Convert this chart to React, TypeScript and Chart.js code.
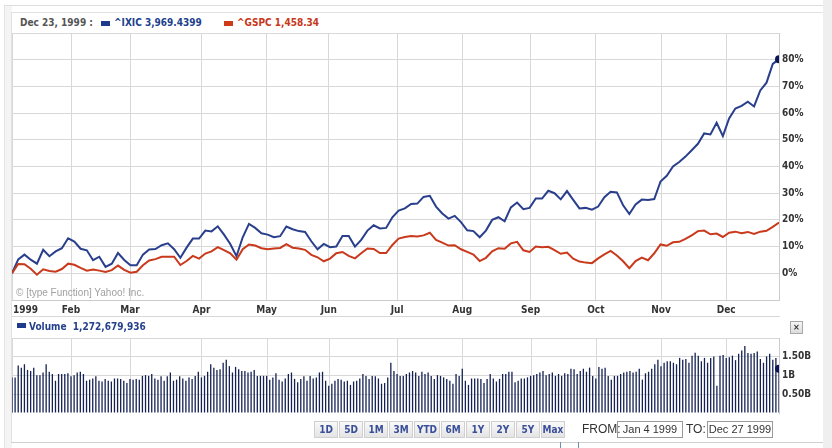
import React, { useEffect, useRef } from 'react';
import { Chart, registerables } from 'chart.js';
Chart.register(...registerables);

// ---------- data ----------
const LAST_DAY = 247; // trading-day index of the last session shown
const MONTH_DAY_INDEX = [0, 19, 38, 61, 82, 102, 124, 145, 167, 188, 209, 230];
const MONTH_LABELS = ['1999', 'Feb', 'Mar', 'Apr', 'May', 'Jun', 'Jul', 'Aug', 'Sep', 'Oct', 'Nov', 'Dec'];

// % change since Jan 4 1999, sampled every ~2 trading days
const IXIC_PCT = [
  0, 5.2, 7, 5.1, 3.6, 8.8, 6.4, 8.2, 9.4, 13.1,
  11.9, 9.2, 8.6, 4.9, 6.2, 2.4, 3.6, 7.6, 5, 3,
  3, 7, 8.9, 9.1, 10.5, 11.2, 9, 5.8, 9.6, 13,
  13, 16, 15.7, 17.6, 14.5, 11, 6.4, 13.5, 18.5, 17,
  15, 14.5, 13.5, 13.9, 17.5, 16.5, 15.8, 15.5, 12, 9,
  11, 9.8, 10, 14, 14, 10, 12.5, 16, 18, 16.8,
  17, 21, 23.5, 24.3, 26, 26.1, 28.6, 29, 25, 22.4,
  20.5, 21.5, 19.2, 16.1, 15.8, 13.5, 16, 20, 21, 19.5,
  24.7, 26.5, 24, 24.5, 28, 28, 30.9, 30, 27.7, 30.8,
  27.5, 24.3, 24.5, 23.8, 25, 28.5, 30.5, 30.3, 25.5, 22.2,
  25.8, 27.6, 27.5, 27.8, 34.4, 36.5, 40, 41.7, 43.7, 46.1,
  48.5, 52.4, 52, 56.4, 51.4, 58, 61.7, 62.7, 64.3, 62.5,
  68.5, 71.4, 78.4, 80.2,
];
const GSPC_PCT = [
  0, 3.5, 3.4, 1.7, -0.5, 1.5, 0.9, 0.6, 1.6, 3.6,
  3.2, 2, 1, 1.4, 1, 0.5, 1.2, 2.9, 1.3, 0.2,
  0.6, 3, 4.8, 5.3, 6.2, 6.2, 6.2, 3.1, 4.6, 6.5,
  5.5, 7.4, 8.2, 9.8, 8.7, 7.5, 5.1, 9, 10.8, 10.4,
  9.4, 9, 9.3, 9.5, 10.9, 9.6, 9.3, 8.8, 6.9, 6,
  4.5, 5.5, 7.5, 8, 6.5, 5.6, 7.5, 9.3, 9.1, 7.6,
  7.6, 10.6, 13, 13.6, 14, 13.8, 14.2, 15.2, 12.5, 11.5,
  10.4, 10.5, 9, 8, 7, 4.6, 5.8, 8.2, 9.4, 9.2,
  11.2, 11.8, 8.6, 8, 10, 9.8, 9.9, 8.7, 7.3, 7.8,
  5.5, 4.4, 4, 3.8, 5.6, 7.1, 8.4, 6.7, 4.5, 1.9,
  4.6, 5.9, 4.9, 7.5, 10.8, 10.3, 11.6, 11.8, 12.9, 14.2,
  15.8, 16, 14.6, 14.9, 13.6, 15.2, 15.6, 15, 15.5, 14.7,
  15.6, 15.9, 17.4, 19,
];

// daily volume, billions of shares
const VOLUME_B = [
  0.95, 0.95, 1.27, 1.21, 1.30, 1.15, 1.12, 1.21, 1.01, 1.01,
  1.08, 1.30, 1.10, 1.04, 0.86, 1.04, 1.04, 1.04, 1.06, 0.98,
  1.01, 1.08, 1.10, 1.04, 0.86, 0.89, 0.92, 0.98, 0.86, 0.84,
  0.91, 0.86, 0.84, 0.92, 0.92, 0.91, 0.86, 0.80, 0.91, 0.89,
  0.91, 0.89, 0.99, 1.01, 0.99, 1.04, 0.92, 0.89, 0.98, 0.86,
  0.98, 1.08, 0.86, 0.89, 0.98, 0.92, 0.86, 0.95, 0.91, 0.99,
  1.10, 0.95, 0.99, 1.10, 1.30, 1.21, 1.15, 1.17, 1.34, 1.42,
  1.25, 1.08, 1.23, 1.17, 1.12, 1.12, 1.08, 1.10, 1.15, 0.99,
  0.99, 0.99, 0.99, 0.89, 0.95, 1.06, 0.89, 0.84, 0.92, 1.04,
  1.08, 0.91, 0.82, 0.91, 0.98, 0.86, 0.99, 0.92, 0.95, 1.08,
  1.10, 0.86, 0.73, 0.78, 0.86, 0.91, 0.89, 0.84, 0.86, 0.75,
  0.84, 0.86, 0.92, 1.04, 0.99, 0.91, 0.99, 0.98, 0.92, 0.78,
  0.80, 0.95, 1.34, 1.12, 1.04,
  0.99, 0.99, 1.04, 1.08, 1.12, 1.08, 0.99, 1.10, 1.04, 1.08,
  0.99, 0.91, 1.01, 0.99, 0.95, 0.91, 0.86, 0.78, 1.04, 0.99,
  1.18, 0.86, 0.75, 0.92, 0.92, 0.92, 0.91, 0.80, 0.91, 1.04,
  0.92, 0.84, 0.91, 1.04, 1.04, 1.10, 1.10, 0.82, 0.86, 0.92,
  0.92, 0.95, 0.99, 1.01, 1.04, 1.08, 1.12, 1.01, 1.04, 1.08,
  0.99, 1.04, 0.99, 1.06, 1.04, 1.18, 1.17, 1.04, 1.12, 1.18,
  1.10, 1.21, 0.99, 0.92, 1.23, 1.18, 1.21, 0.99, 0.89, 0.99,
  0.99, 1.04, 1.08, 1.10, 1.12, 1.08, 1.10, 1.18, 0.89, 1.06,
  1.10, 1.18, 1.30, 1.42, 1.25, 1.34, 1.38, 1.38, 1.34, 1.30,
  1.47, 1.42, 1.44, 1.34, 1.53, 1.61, 1.53, 1.38, 1.47, 1.34,
  1.47, 1.51, 0.73, 1.53, 1.55, 1.47, 1.49, 1.53, 1.41, 1.58,
  1.67, 1.79, 1.60, 1.58, 1.60, 1.64, 1.44, 1.34, 1.51, 1.58,
  1.42, 1.47, 1.18,
];

const PCT_TICKS = [0, 10, 20, 30, 40, 50, 60, 70, 80];
const PCT_TICK_LABELS = ['0%', '10%', '20%', '30%', '40%', '50%', '60%', '70%', '80%'];
const VOL_TICKS = [0.5, 1, 1.5];
const VOL_TICK_LABELS = ['0.50B', '1B', '1.50B'];
const RANGE_BUTTONS = ['1D', '5D', '1M', '3M', 'YTD', '6M', '1Y', '2Y', '5Y', 'Max'];

// ---------- styles ----------
const FONT = "'DejaVu Sans Condensed', 'DejaVu Sans', Verdana, sans-serif";
const BLUE = '#2a3f8c';
const RED = '#c9391b';
const DOT = '#0b1656';
const BAR = '#142152';
const GRID = '#d8d8d8';

const monthLabels = {
  id: 'monthLabels',
  afterDraw(chart: any) {
    const xs = chart.scales.x;
    const ctx = chart.ctx;
    ctx.save();
    ctx.font = `bold 10px ${FONT}`;
    ctx.fillStyle = '#333';
    ctx.textBaseline = 'middle';
    MONTH_DAY_INDEX.forEach((d, i) => {
      const px = xs.getPixelForValue(d);
      ctx.textAlign = i === 0 ? 'left' : 'center';
      ctx.fillText(MONTH_LABELS[i], i === 0 ? px + 1 : px, chart.chartArea.bottom + 10);
    });
    ctx.restore();
  },
};

// vertical month grid for the volume panel, placed with the x scale
const volMonthGrid = {
  id: 'volMonthGrid',
  beforeDatasetsDraw(chart: any) {
    const xs = chart.scales.x;
    const { top, bottom } = chart.chartArea;
    const ctx = chart.ctx;
    ctx.save();
    ctx.strokeStyle = GRID;
    ctx.lineWidth = 1;
    MONTH_DAY_INDEX.forEach((d) => {
      const px = Math.round(xs.getPixelForValue(d)) + 0.5;
      ctx.beginPath();
      ctx.moveTo(px, top);
      ctx.lineTo(px, bottom);
      ctx.stroke();
    });
    ctx.restore();
  },
};

export default function App() {
  const mainRef = useRef<HTMLCanvasElement>(null);
  const volRef = useRef<HTMLCanvasElement>(null);

  useEffect(() => {
    const step = LAST_DAY / (IXIC_PCT.length - 1);
    const toPts = (arr: number[]) => arr.map((v, k) => ({ x: k * step, y: v }));
    const monthTicks = (s: any) => {
      s.ticks = MONTH_DAY_INDEX.map((v) => ({ value: v }));
    };
    const tickFont = { family: FONT, size: 10, weight: 'bold' as const };

    const main = new Chart(mainRef.current!, {
      type: 'line',
      data: {
        datasets: [
          {
            label: '^GSPC',
            data: toPts(GSPC_PCT),
            borderColor: RED,
            borderWidth: 2,
            pointRadius: 0,
            tension: 0,
          },
          {
            label: '^IXIC',
            data: toPts(IXIC_PCT),
            borderColor: BLUE,
            borderWidth: 2,
            tension: 0,
            pointRadius: (c: any) => (c.dataIndex === IXIC_PCT.length - 1 ? 4 : 0),
            pointBackgroundColor: DOT,
            pointBorderWidth: 0,
            clip: 0,
          },
        ],
      },
      options: {
        responsive: false,
        animation: false,
        events: [],
        layout: { padding: { left: 12, top: 10, right: 0, bottom: 0 } },
        plugins: { legend: { display: false }, tooltip: { enabled: false } },
        scales: {
          x: {
            type: 'linear',
            min: 0,
            max: LAST_DAY,
            afterBuildTicks: monthTicks,
            ticks: { display: false },
            grid: { color: GRID, drawTicks: false },
            border: { color: '#cccccc' },
            afterFit: (s: any) => {
              s.height = 17;
            },
          },
          y: {
            position: 'right',
            min: -10,
            max: 90,
            ticks: {
              stepSize: 10,
              autoSkip: false,
              padding: 3,
              color: '#333',
              font: tickFont,
              callback: (v: any) => {
                const i = PCT_TICKS.indexOf(Number(v));
                return i >= 0 ? PCT_TICK_LABELS[i] : '';
              },
            },
            grid: { color: GRID, drawTicks: false },
            border: { color: '#cccccc' },
            afterFit: (s: any) => {
              s.width = 44;
            },
          },
        },
      },
      plugins: [monthLabels],
    });

    const last = VOLUME_B.length - 1;
    const vol = new Chart(volRef.current!, {
      type: 'bar',
      data: {
        datasets: [
          {
            type: 'line',
            label: 'marker',
            data: [{ x: last, y: VOLUME_B[last] }],
            showLine: false,
            pointRadius: 4,
            pointBackgroundColor: DOT,
            pointBorderWidth: 0,
            clip: 0,
          } as any,
          {
            label: 'Volume',
            data: VOLUME_B.map((v, i) => ({ x: i, y: v })),
            backgroundColor: BAR,
            barThickness: 1.3,
            inflateAmount: 0,
          },
        ],
      },
      options: {
        responsive: false,
        animation: false,
        events: [],
        layout: { padding: { left: 12, top: 8, right: 0, bottom: 7 } },
        plugins: { legend: { display: false }, tooltip: { enabled: false } },
        scales: {
          x: {
            type: 'linear',
            min: 0,
            max: LAST_DAY,
            offset: false,
            display: false,
          },
          y: {
            position: 'right',
            min: 0,
            max: 2,
            ticks: {
              stepSize: 0.5,
              autoSkip: false,
              padding: 3,
              color: '#333',
              font: tickFont,
              callback: (v: any) => {
                const i = VOL_TICKS.indexOf(Number(v));
                return i >= 0 ? VOL_TICK_LABELS[i] : '';
              },
            },
            grid: {
              color: (c: any) => (c.tick && c.tick.value === 0 ? 'rgba(0,0,0,0)' : GRID),
              drawTicks: false,
            },
            border: { color: '#cccccc' },
            afterFit: (s: any) => {
              s.width = 44;
            },
          },
        },
      },
      plugins: [volMonthGrid],
    });

    return () => {
      main.destroy();
      vol.destroy();
    };
  }, []);

  const abs = (l: number, t: number, w: number, h: number, extra: any = {}) => ({
    position: 'absolute' as const,
    left: l,
    top: t,
    width: w,
    height: h,
    ...extra,
  });
  const bold10 = { fontFamily: FONT, fontWeight: 'bold' as const, fontSize: 10, lineHeight: '12px', whiteSpace: 'nowrap' as const };
  const arial = "'Liberation Sans', Arial, sans-serif";

  return (
    <div style={{ position: 'fixed', left: 0, top: 0, width: 832, height: 448, background: '#fff', overflow: 'hidden' }}>
      {/* frame */}
      <div style={abs(4, 5, 819, 1, { background: '#dedede' })} />
      <div style={abs(4, 6, 7, 442, { background: '#f4f4f4', borderLeft: '1px solid #e4e4e4' })} />
      <div style={abs(823, 0, 9, 448, { background: '#efefef' })} />
      <div style={abs(11, 12, 812, 1, { background: '#e2e2e2' })} />
      <div style={abs(11, 12, 1, 430, { background: '#e2e2e2' })} />

      {/* header */}
      <div style={abs(20, 17, 80, 12, { ...bold10, color: '#555' })}>Dec 23, 1999 :</div>
      <div style={abs(101, 21, 9, 5, { background: '#1e3a8a' })} />
      <div style={abs(114, 17, 100, 12, { ...bold10, color: '#213f8e' })}>^IXIC 3,969.4399</div>
      <div style={abs(224, 21, 9, 5, { background: '#cf3a1a' })} />
      <div style={abs(237, 17, 100, 12, { ...bold10, color: '#c8361a' })}>^GSPC 1,458.34</div>

      {/* main chart */}
      <canvas ref={mainRef} width={823} height={294} style={abs(0, 23, 823, 294)} />
      <div style={abs(16, 287, 200, 12, { fontFamily: arial, fontSize: 10, lineHeight: '12px', color: '#a0a0a0', whiteSpace: 'nowrap' })}>
        © [type Function] Yahoo! Inc.
      </div>
      <div style={abs(12, 316, 768, 1, { background: '#d8d8d8' })} />

      {/* volume legend */}
      <div style={abs(17, 323, 9, 5, { background: '#1e3a8a' })} />
      <div style={abs(29, 321, 200, 12, { ...bold10, color: '#25408c' })}>Volume&nbsp;&nbsp;1,272,679,936</div>
      <div
        style={abs(790, 321, 11, 11, {
          border: '1px solid #a8a8a8',
          background: 'linear-gradient(#f6f6f6,#dcdcdc)',
          fontFamily: FONT,
          fontSize: 9,
          lineHeight: '10px',
          textAlign: 'center',
          color: '#333',
          fontWeight: 'bold',
        })}
      >
        ×
      </div>

      {/* volume chart */}
      <canvas ref={volRef} width={823} height={93} style={abs(0, 329, 823, 93)} />

      {/* range buttons */}
      <div style={abs(314, 421, 252, 17, { display: 'flex', gap: 1 })}>
        {RANGE_BUTTONS.map((b) => (
          <div
            key={b}
            style={{
              boxSizing: 'border-box',
              height: 17,
              width: b === 'YTD' ? 26 : 24,
              border: '1px solid #d0d0d0',
              background: 'linear-gradient(#f9f9f9,#e4e4e4)',
              color: '#3a4f99',
              fontFamily: FONT,
              fontWeight: 'bold',
              fontSize: 10,
              lineHeight: '15px',
              textAlign: 'center',
              whiteSpace: 'nowrap',
            }}
          >
            {b}
          </div>
        ))}
      </div>
      <div style={abs(582, 422, 40, 15, { fontFamily: arial, fontSize: 12, lineHeight: '15px', color: '#333' })}>FROM:</div>
      <div style={abs(617, 421, 64, 15, { border: '1px solid #999', fontFamily: arial, fontSize: 11, lineHeight: '15px', color: '#333', textAlign: 'center', whiteSpace: 'nowrap' })}>Jan 4 1999</div>
      <div style={abs(686, 422, 24, 15, { fontFamily: arial, fontSize: 12, lineHeight: '15px', color: '#333' })}>TO:</div>
      <div style={abs(707, 421, 64, 15, { border: '1px solid #999', fontFamily: arial, fontSize: 11, lineHeight: '15px', color: '#333', textAlign: 'center', whiteSpace: 'nowrap' })}>Dec 27 1999</div>

      {/* bottom rule */}
      <div style={abs(11, 442, 812, 1, { background: '#d0d0d0' })} />
      <div style={abs(560, 442, 1, 6, { background: '#6f8fb0' })} />
      <div style={abs(578, 442, 1, 6, { background: '#6f8fb0' })} />
    </div>
  );
}
